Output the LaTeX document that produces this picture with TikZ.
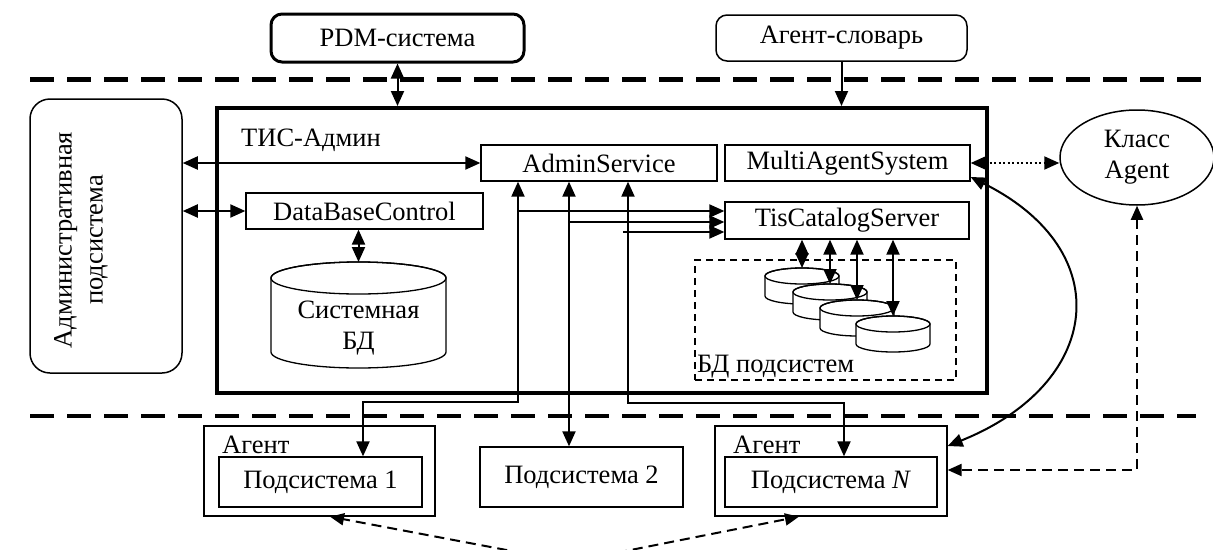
\documentclass[tikz,border=0pt]{standalone}
\usepackage{fontspec}
\setmainfont{Liberation Serif}
\usetikzlibrary{arrows.meta,shapes.geometric}
\newcommand\mycyl[5]{%
  \filldraw[fill=white,line width=1.3pt] (#1,#2+#5) -- (#1,#2+#4-#5)
    arc[start angle=180,end angle=0,x radius=#3/2,y radius=#5]
    -- (#1+#3,#2+#5)
    arc[start angle=0,end angle=-180,x radius=#3/2,y radius=#5] -- cycle;
  \draw[line width=1.3pt] (#1+#3/2,#2+#5) ellipse[x radius=#3/2,y radius=#5];
}
\begin{document}
\begin{tikzpicture}[x=1pt,y=-1pt,
  font=\fontsize{26.5}{31}\selectfont,
  >={Triangle[length=15pt,width=13pt]},
  box/.style={draw,line width=1.3pt,inner sep=0pt},
  conn/.style={line width=2pt},
  dasharr/.style={line width=2pt,dash pattern=on 10pt off 6pt,>={Triangle[length=14pt,width=12pt]}},
  dotarr/.style={line width=2pt,dash pattern=on 2pt off 2.5pt},
  sep/.style={line width=4.5pt,dash pattern=on 24pt off 13pt},
  lbl/.style={inner sep=0pt,anchor=west}]
\useasboundingbox (0,0) rectangle (1213,549);
\clip (0,0) rectangle (1213,549);

% separators
\draw[sep] (30,79.5) -- (1213,79.5);
\draw[sep] (30,416) -- (1196,416);

% top boxes
\node[draw,line width=3pt,rounded corners=11pt,minimum width=253pt,minimum height=48pt,inner sep=0pt] (pdm) at (397.5,38) {PDM-система};
\node[draw,line width=1.5pt,rounded corners=11pt,minimum width=251pt,minimum height=46pt,inner sep=0pt] (dict) at (841.5,38) {Агент-словарь};

% administrative subsystem
\node[draw,line width=1.5pt,rounded corners=20pt,minimum width=152pt,minimum height=274pt,inner sep=0pt] (admin) at (106,236) {};
\node[rotate=90,align=center,inner sep=0pt] (adminlbl) at (81,240) {Административная\\подсистема};

% big box
\node[draw,line width=4pt,minimum width=770pt,minimum height=285pt,inner sep=0pt] (tis) at (602,250.5) {};
\node[lbl] (tislbl) at (241,140) {ТИС-Админ};

\node[box,minimum width=236pt,minimum height=36pt] (as) at (599,163) {AdminService};
\node[box,minimum width=245pt,minimum height=36pt] (mas) at (847.5,163) {MultiAgentSystem};
\node[box,minimum width=237pt,minimum height=36pt] (dbc) at (364.5,211) {DataBaseControl};
\node[box,minimum width=244pt,minimum height=37pt] (tcs) at (847,220.5) {TisCatalogServer};

% system DB cylinder
\mycyl{271}{262}{175}{106}{16}
\node[align=center,inner sep=0pt] (sysdb) at (358.5,328) {Системная\\БД};
\coordinate (sysdbtop) at (358.5,262);

% subsystem DBs
\node[draw,line width=1.3pt,dash pattern=on 7pt off 5pt,minimum width=261pt,minimum height=120pt,inner sep=0pt] (bdbox) at (825.5,320) {};
\node[lbl] (bdlbl) at (697,367) {БД подсистем};
\mycyl{765}{268}{74}{36}{8}
\mycyl{793}{284}{74}{36}{8}
\mycyl{820}{300}{74}{36}{8}
\mycyl{856}{316}{74}{36}{8}
\coordinate (c1) at (802,268);
\coordinate (c2) at (830,284);
\coordinate (c3) at (857,300);
\coordinate (c4) at (893,316);

% class Agent
\node[draw,ellipse,line width=1.5pt,minimum width=154pt,minimum height=95pt,inner sep=0pt,align=center] (cls) at (1137,157.5) {Класс\\Agent};

% bottom row
\node[box,minimum width=231pt,minimum height=90pt] (a1) at (319.5,471) {};
\node[lbl] (a1lbl) at (222,445) {Агент};
\node[box,minimum width=203pt,minimum height=50pt] (p1) at (320.5,482) {Подсистема 1};
\node[box,minimum width=203pt,minimum height=60pt] (p2) at (581.5,477) {Подсистема 2};
\node[box,minimum width=232pt,minimum height=90pt] (an) at (831,471) {};
\node[lbl] (anlbl) at (733,445) {Агент};
\node[box,minimum width=212pt,minimum height=50pt] (pn) at (831,482) {Подсистема \textit{N}};
\coordinate (hub) at (570,562);

% connectors
\draw[conn,<->] (pdm.south) -- (pdm.south |- tis.north);
\draw[conn,->] (dict.south) -- (dict.south |- tis.north);
\draw[conn,<->] (admin.east |- as.west) -- (as.west);
\draw[conn,<->] (admin.east |- dbc.west) -- (dbc.west);
\draw[conn,<->] (sysdbtop |- dbc.south) -- (sysdbtop);

\draw[conn,<->] (518,0 |- as.south) -- (518,402) -| (363,0 |- p1.north);
\draw[conn,<->] (569,0 |- as.south) -- (569,0 |- p2.north);
\draw[conn,<->] (628,0 |- as.south) -- (628,403) -| (844,0 |- pn.north);

\draw[conn,->] (518,211) -- (518,211 -| tcs.west);
\draw[conn,->] (569,222) -- (569,222 -| tcs.west);
\draw[conn,->] (623,232) -- (623,232 -| tcs.west);

\draw[conn,<->] (c1 |- tcs.south) -- (c1);
\draw[conn,<->] (c2 |- tcs.south) -- (c2);
\draw[conn,<->] (c3 |- tcs.south) -- (c3);
\draw[conn,<->] (c4 |- tcs.south) -- (c4);

\draw[dotarr,<->] (mas.east) -- (cls.west |- mas.east);
\draw[conn,<->] ([yshift=-14pt]mas.east) .. controls (1119,251) and (1102,384) .. ([yshift=25pt]an.east);
\draw[dasharr,<->] (cls.south) -- (cls.south |- 0,470) -- (an.east |- 0,470);

\draw[dasharr,->] (hub) -- (330,0 |- a1.south);
\draw[dasharr,->] (hub) -- (799,0 |- an.south);
\end{tikzpicture}
\end{document}
